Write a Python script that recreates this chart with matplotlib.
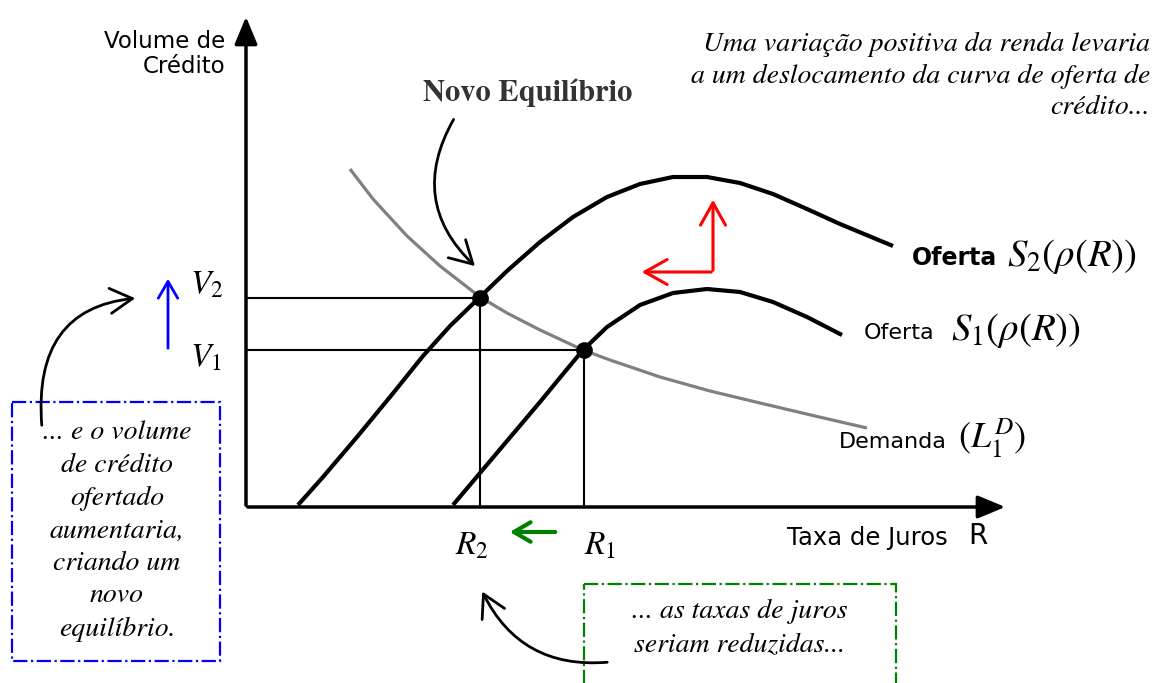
import matplotlib.pyplot as plt
from matplotlib.patches import Rectangle

plt.rcParams['mathtext.fontset'] = 'stix'

# curve points (pixel coords, y down)
s2_x = [298, 323, 357, 390, 423, 450, 480, 507, 540, 573, 607, 640, 673, 707, 740, 773, 807, 840, 893]
s2_y = [505, 477, 437, 397, 356, 326, 297, 271, 242, 217, 197, 184, 177, 177, 183, 194, 209, 224, 246]
s1_x = [453, 480, 507, 540, 563, 583, 607, 640, 673, 707, 740, 773, 807, 842]
s1_y = [505, 473, 441, 402, 374, 350, 327, 305, 293, 289, 292, 302, 317, 335]
dem_x = [350, 373, 407, 440, 480, 507, 540, 583, 610, 660, 710, 760, 815, 867]
dem_y = [169, 199, 236, 266, 297, 313, 330, 350, 360, 377, 391, 403, 416, 428]

# equilibria: (R2, V2) and (R1, V1)
eq_r = [480, 584]
eq_v = [298, 350]

x0, y0 = 246, 507  # origin

fig = plt.figure(figsize=(11.63, 6.83), dpi=100)
ax = fig.add_axes([0, 0, 1, 1])
ax.set_xlim(0, 1163)
ax.set_ylim(683, 0)
ax.axis('off')

serif = 'STIXGeneral'
head = '->,head_length=0.8,head_width=0.45'

# axes with arrows
ax.annotate('', xy=(x0, 14), xytext=(x0, y0 + 1),
            arrowprops=dict(arrowstyle='-|>,head_length=1.2,head_width=0.5', color='black', lw=2.5, mutation_scale=14))
ax.annotate('', xy=(1008, y0), xytext=(x0 - 1, y0),
            arrowprops=dict(arrowstyle='-|>,head_length=1.2,head_width=0.5', color='black', lw=2.5, mutation_scale=14))

# guide lines
for r, v in zip(eq_r, eq_v):
    ax.plot([x0, r], [v, v], color='black', lw=1.5)
    ax.plot([r, r], [v, y0], color='black', lw=1.5)

# curves
ax.plot(dem_x, dem_y, color='#808080', lw=2.3, solid_capstyle='butt', solid_joinstyle='round')
ax.plot(s2_x, s2_y, color='black', lw=3, solid_capstyle='butt', solid_joinstyle='round')
ax.plot(s1_x, s1_y, color='black', lw=3, solid_capstyle='butt', solid_joinstyle='round')
ax.plot(eq_r, eq_v, 'o', color='black', markersize=11)

# axis labels
ax.text(225, 54, 'Volume de\nCrédito', ha='right', va='center', fontsize=16.5, linespacing=1.15)
ax.text(787, 538, 'Taxa de Juros', ha='left', va='center', fontsize=17.5)
ax.text(968, 536, 'R', ha='left', va='center', fontsize=20)

# value labels
ax.text(190, 284, '$V_2$', ha='left', va='center', fontsize=24)
ax.text(190, 357, '$V_1$', ha='left', va='center', fontsize=24)
ax.text(455, 545, '$R_2$', ha='left', va='center', fontsize=24)
ax.text(584, 545, '$R_1$', ha='left', va='center', fontsize=24)

# curve labels
ax.text(912, 258, 'Oferta', ha='left', va='center', fontsize=17, fontweight='bold')
ax.text(1007, 256, r'$S_2(\rho(R))$', ha='left', va='center', fontsize=28)
ax.text(864, 333, 'Oferta', ha='left', va='center', fontsize=16)
ax.text(951, 331, r'$S_1(\rho(R))$', ha='left', va='center', fontsize=28)
ax.text(839, 442, 'Demanda', ha='left', va='center', fontsize=16)
ax.text(958, 438, r'$(L_1^D)$', ha='left', va='center', fontsize=26)

# shift arrows
ax.annotate('', xy=(713, 197), xytext=(713, 273),
            arrowprops=dict(arrowstyle=head, color='red', lw=2.2, mutation_scale=20))
ax.annotate('', xy=(639, 272), xytext=(714, 272),
            arrowprops=dict(arrowstyle=head, color='red', lw=2.2, mutation_scale=20))
ax.annotate('', xy=(168, 276), xytext=(168, 351),
            arrowprops=dict(arrowstyle='->,head_length=0.6,head_width=0.35', color='blue', lw=2, mutation_scale=20))
ax.annotate('', xy=(507, 532), xytext=(558, 532),
            arrowprops=dict(arrowstyle='->,head_length=0.6,head_width=0.35', color='green', lw=3, mutation_scale=20))

# texts
ax.text(1150, 76, 'Uma variação positiva da renda levaria\na um deslocamento da curva de oferta de\ncrédito...',
        ha='right', va='center', fontsize=20, family=serif, style='italic', linespacing=1.36)
ax.text(528, 93, 'Novo Equilíbrio', ha='center', va='center', fontsize=22, family=serif,
        fontweight='bold', color='#333333')
ax.annotate('', xy=(477, 268), xytext=(455, 117),
            arrowprops=dict(arrowstyle=head, color='black', lw=2,
                            mutation_scale=20, connectionstyle='arc3,rad=0.4'))

# blue box
ax.add_patch(Rectangle((12, 402), 208, 259, fill=False, edgecolor='blue', lw=1.6, linestyle='-.'))
ax.text(117, 531, '... e o volume\nde crédito\nofertado\naumentaria,\ncriando um\nnovo\nequilíbrio.',
        ha='center', va='center', fontsize=20, family=serif, style='italic', linespacing=1.42)
ax.annotate('', xy=(138, 298), xytext=(42, 428),
            arrowprops=dict(arrowstyle=head, color='black', lw=2,
                            mutation_scale=20, connectionstyle='angle3,angleA=95,angleB=5'))

# green box
ax.add_patch(Rectangle((584, 584), 312, 130, fill=False, edgecolor='green', lw=1.6, linestyle='-.'))
ax.text(740, 628, '... as taxas de juros\nseriam reduzidas...',
        ha='center', va='center', fontsize=20, family=serif, style='italic', linespacing=1.42)
ax.annotate('', xy=(481, 589), xytext=(610, 662),
            arrowprops=dict(arrowstyle=head, color='black', lw=2,
                            mutation_scale=20, connectionstyle='arc3,rad=-0.35'))

fig.savefig('out.png', dpi=100)
